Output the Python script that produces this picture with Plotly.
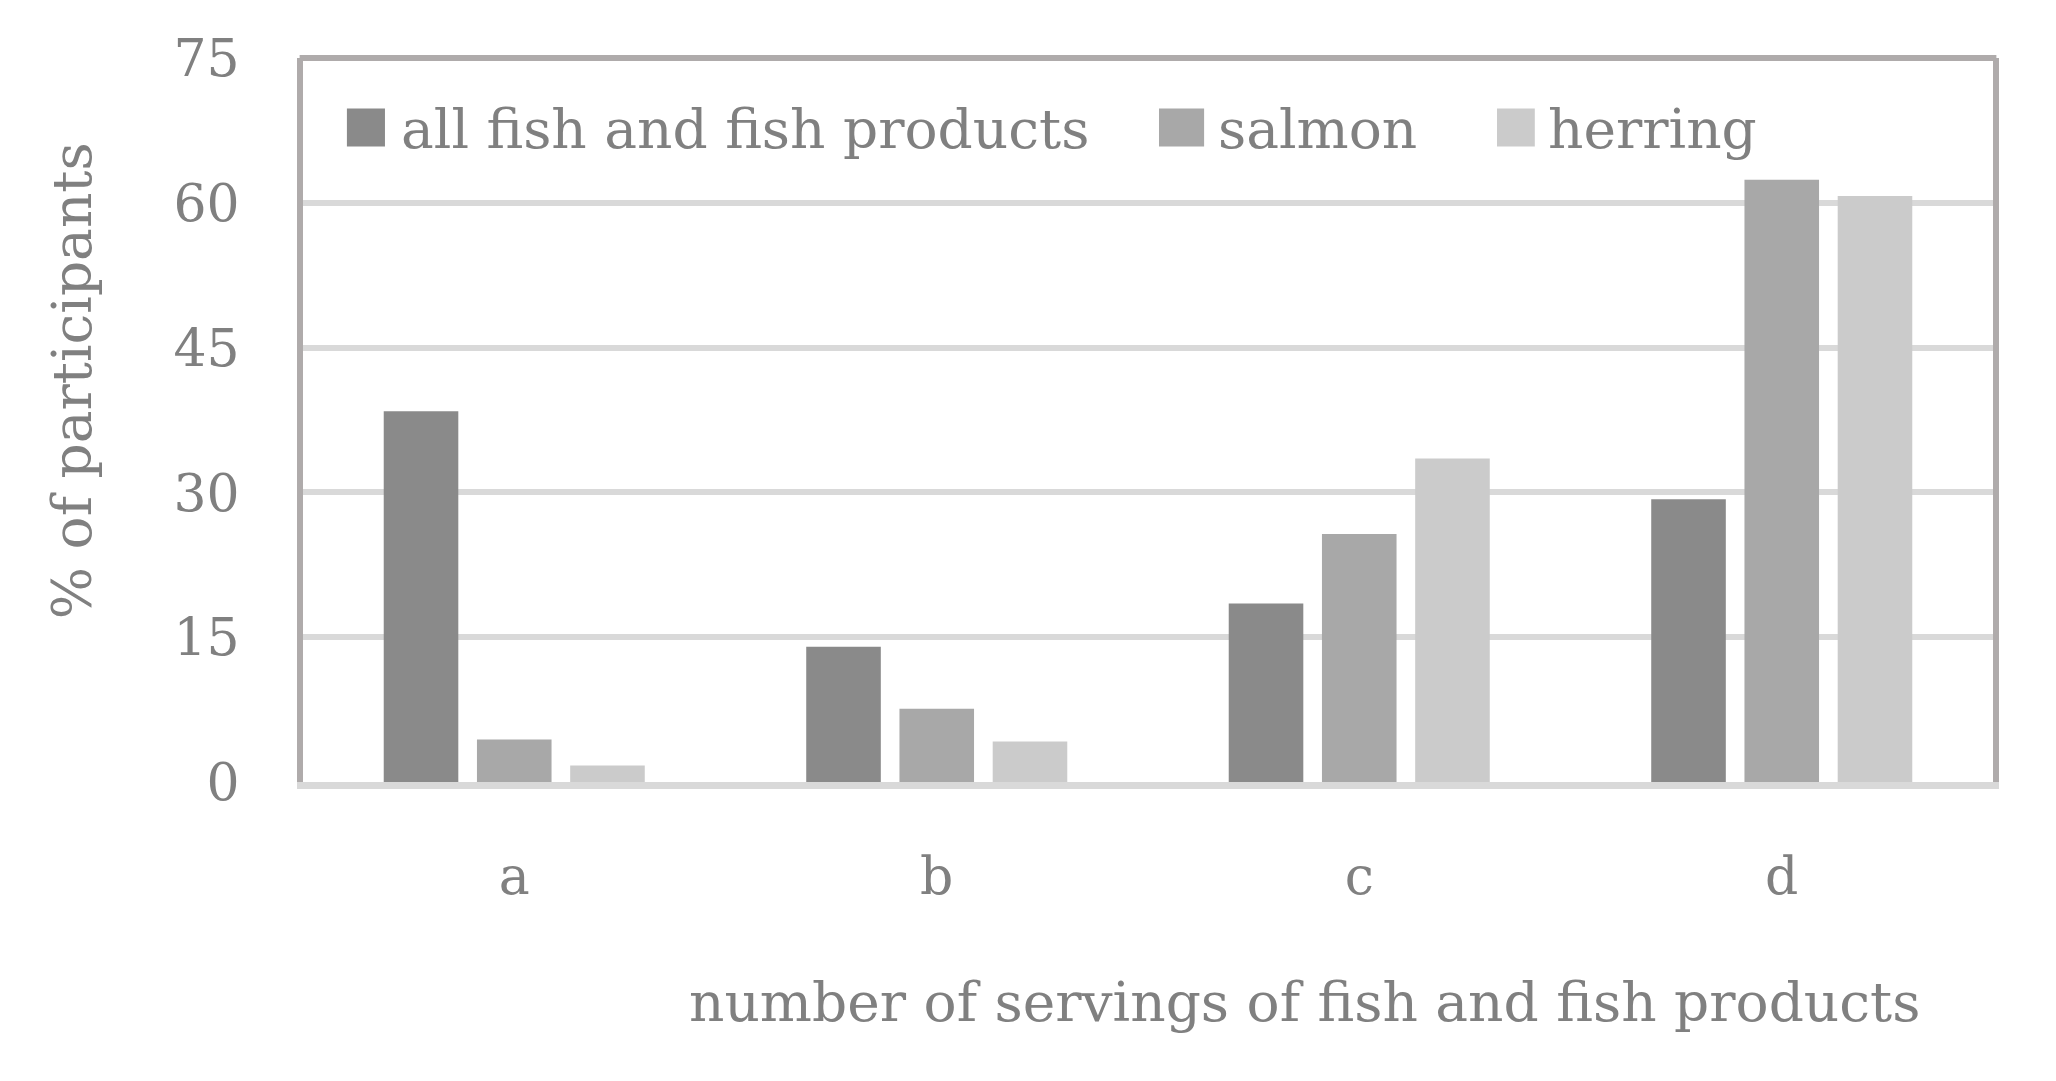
import plotly.graph_objects as go

categories = ["a", "b", "c", "d"]
series_names = ["all fish and fish products", "salmon", "herring"]
all_fish = [38.4, 14.0, 18.5, 29.3]
salmon = [4.4, 7.6, 25.7, 62.4]
herring = [1.7, 4.2, 33.5, 60.7]
y_ticks = [0, 15, 30, 45, 60, 75]

colors = ["#8a8a8a", "#a8a8a8", "#cbcbcb"]
FONT = "DejaVu Serif"
TXT = "#808080"
FRAME = "#afabab"
GRID = "#d9d9d9"
FS = 55      # titles / legend
TFS = 52     # tick labels

W, H = 2040, 1065
PL, PR, PT, PB = 295, 1985, 50, 774.5

fig = go.Figure()
for name, vals, col in zip(series_names, [all_fish, salmon, herring], colors):
    fig.add_trace(go.Bar(x=categories, y=vals, name=name, marker_color=col,
                         marker_line_width=0, showlegend=False))

# manual legend (large square swatches like the original)
leg_sq = [(0.02598, 0.04850), (0.50651, 0.53320), (0.70651, 0.72888)]
leg_tx = [0.0570, 0.5405, 0.7355]
shapes = []
annotations = []
for (x0, x1), tx, name, col in zip(leg_sq, leg_tx, series_names, colors):
    shapes.append(dict(type="rect", xref="paper", yref="paper", x0=x0, x1=x1,
                       y0=0.8776, y1=0.9303, fillcolor=col, line_width=0, layer="above"))
    annotations.append(dict(text=name, xref="paper", yref="paper", x=tx, y=0.9017,
                            xanchor="left", yanchor="middle", showarrow=False,
                            font=dict(family=FONT, size=FS, color=TXT)))

# top frame line
shapes.append(dict(type="line", xref="paper", yref="paper", x0=-0.002, x1=1.002,
                   y0=1, y1=1, line=dict(color=FRAME, width=6), layer="above"))

annotations.append(dict(text="number of servings of fish and fish products",
                        xref="paper", yref="paper", x=0.958, y=-0.3043,
                        xanchor="right", yanchor="middle", showarrow=False,
                        font=dict(family=FONT, size=FS, color=TXT)))
annotations.append(dict(text="% of participants", xref="paper", yref="paper",
                        x=-0.1367, y=0.555, xanchor="center", yanchor="middle",
                        textangle=-90, showarrow=False,
                        font=dict(family=FONT, size=FS, color=TXT)))

fig.update_layout(
    width=W, height=H,
    margin=dict(l=PL, r=W - PR, t=PT, b=H - PB, pad=0),
    paper_bgcolor="white", plot_bgcolor="white",
    barmode="group", bargap=0.338, bargroupgap=0.2,
    font=dict(family=FONT, size=FS, color=TXT),
    shapes=shapes, annotations=annotations,
    xaxis=dict(showgrid=False, showline=True, linecolor=GRID, linewidth=7,
               ticks="", ticklabelstandoff=43,
               tickfont=dict(family=FONT, size=TFS, color=TXT)),
    yaxis=dict(range=[0, 75], tickvals=y_ticks, showgrid=True, gridcolor=GRID,
               gridwidth=6, zeroline=False, showline=True, mirror=True,
               linecolor=FRAME, linewidth=6, ticks="", ticklabelstandoff=47,
               tickfont=dict(family=FONT, size=TFS, color=TXT)),
)

fig.write_html("out.html")
